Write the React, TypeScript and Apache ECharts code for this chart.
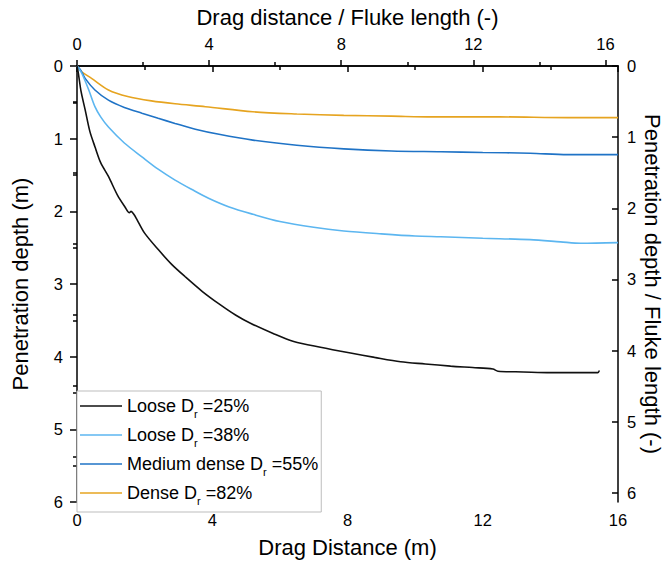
import React, { useEffect, useRef } from "react";
import * as echarts from "echarts";

// ---------- data ----------
const seriesPrefix = ["Loose D", "Loose D", "Medium dense D", "Dense D"];
const seriesSuffix = [" =25%", " =38%", " =55%", " =82%"];
const seriesColors = ["#111111", "#5cb6f0", "#1f73c6", "#e6a420"];

// [drag distance (m), penetration depth (m)]
const loose25: number[][] = [
  [0, 0], [0.04, 0.1], [0.12, 0.35], [0.24, 0.6], [0.38, 0.9], [0.53, 1.11],
  [0.7, 1.33], [0.93, 1.52], [1.2, 1.78], [1.42, 1.94], [1.55, 2.02], [1.6, 2.0],
  [1.68, 2.04], [1.77, 2.11], [2.0, 2.3], [2.41, 2.53], [2.8, 2.73], [3.2, 2.9],
  [3.7, 3.1], [4.19, 3.27], [4.7, 3.43], [5.13, 3.54], [5.8, 3.68], [6.41, 3.79],
  [7.2, 3.87], [8.09, 3.95], [8.8, 4.01], [9.57, 4.07], [10.3, 4.1], [11.05, 4.13],
  [11.7, 4.15], [12.3, 4.17], [12.45, 4.2], [13.2, 4.21], [14.0, 4.22], [14.7, 4.22],
  [15.4, 4.22], [15.45, 4.19],
];
const loose38: number[][] = [
  [0, 0], [0.14, 0.1], [0.34, 0.32], [0.53, 0.56], [0.7, 0.7], [0.93, 0.84],
  [1.4, 1.06], [1.92, 1.25], [2.4, 1.42], [2.9, 1.57], [3.4, 1.7], [3.89, 1.82],
  [4.5, 1.94], [5.2, 2.04], [6.0, 2.14], [7.0, 2.22], [7.89, 2.27], [9.0, 2.31],
  [10.0, 2.34], [10.76, 2.35], [12.0, 2.37], [13.4, 2.39], [14.3, 2.42], [14.9, 2.44],
  [16.0, 2.43],
];
const medium55: number[][] = [
  [0, 0], [0.1, 0.05], [0.24, 0.17], [0.53, 0.33], [0.93, 0.47], [1.4, 0.57],
  [1.92, 0.65], [2.4, 0.72], [2.9, 0.79], [3.5, 0.87], [4.2, 0.94], [5.2, 1.02],
  [6.5, 1.09], [7.89, 1.14], [9.3, 1.17], [10.76, 1.18], [12.0, 1.19], [13.4, 1.2],
  [14.5, 1.22], [16.0, 1.22],
];
const dense82: number[][] = [
  [0, 0], [0.14, 0.08], [0.43, 0.17], [0.93, 0.33], [1.5, 0.42], [2.2, 0.48],
  [2.9, 0.52], [3.8, 0.56], [5.2, 0.63], [6.5, 0.66], [7.89, 0.68], [9.3, 0.69],
  [10.5, 0.7], [12.5, 0.7], [14.5, 0.71], [16.0, 0.71],
];
const allSeries = [loose25, loose38, medium55, dense82];

const topMajorTicks = [0, 4, 8, 12, 16];
const topMinorTicks = [2, 6, 10, 14];
const rightMajorTicks = [0, 1, 2, 3, 4, 5, 6];
const rightMinorTicks = [0.5, 1.5, 2.5, 3.5, 4.5, 5.5];

const FONT = "'Liberation Sans', Arial, sans-serif";

export default function App() {
  const ref = useRef<HTMLDivElement>(null);
  useEffect(() => {
    if (!ref.current) return;
    const chart = echarts.init(ref.current, undefined, { renderer: "svg" });
    const names = seriesPrefix.map((p, i) => p + "r" + seriesSuffix[i]);
    const lineStyle = { color: "#000", width: 1.5 };
    const labelBase = { color: "#000", fontSize: 16.5, fontFamily: FONT };
    const nameStyle = { color: "#000", fontSize: 22, fontFamily: FONT };
    const topCommon = {
      type: "value",
      position: "top",
      min: 0,
      max: 16.38,
      splitLine: { show: false },
    };
    const rightCommon = {
      type: "value",
      position: "right",
      min: 0,
      max: 6.13,
      inverse: true,
      splitLine: { show: false },
    };
    chart.setOption({
      animation: false,
      textStyle: { fontFamily: FONT },
      grid: {
        left: 77,
        top: 66,
        right: 49,
        bottom: 61,
        containLabel: false,
        outerBoundsMode: "none",
      },
      legend: {
        orient: "vertical",
        left: 77,
        top: 391,
        padding: [6, 3, 6, 3],
        itemWidth: 42,
        itemHeight: 1.5,
        itemGap: 7,
        icon: "rect",
        backgroundColor: "#fff",
        borderColor: "#bdbdbd",
        borderWidth: 1,
        data: names,
        formatter: (name: string) => {
          const i = names.indexOf(name);
          return `{n|${seriesPrefix[i]}}{s|r}{n|${seriesSuffix[i]}}`;
        },
        textStyle: {
          color: "#000",
          fontFamily: FONT,
          rich: {
            n: { fontSize: 18, lineHeight: 20, color: "#000", fontFamily: FONT },
            s: { fontSize: 11, color: "#000", fontFamily: FONT, verticalAlign: "bottom", padding: [0, 0, -3, 0] },
          },
        },
      },
      xAxis: [
        {
          type: "value",
          position: "bottom",
          min: 0,
          max: 16,
          interval: 4,
          name: "Drag Distance (m)",
          nameLocation: "middle",
          nameGap: 34,
          nameTextStyle: nameStyle,
          axisLine: { show: true, lineStyle },
          axisTick: { show: true, inside: false, length: 6, lineStyle },
          minorTick: { show: true, splitNumber: 2, length: 4, lineStyle },
          axisLabel: { ...labelBase, margin: 9 },
          splitLine: { show: false },
          minorSplitLine: { show: false },
        },
        {
          ...topCommon,
          name: "Drag distance / Fluke length (-)",
          nameLocation: "middle",
          nameGap: 38,
          nameTextStyle: nameStyle,
          axisLine: { show: true, onZero: false, lineStyle },
          axisTick: { show: true, inside: false, length: 6, lineStyle, customValues: topMajorTicks },
          axisLabel: { ...labelBase, margin: 14, customValues: topMajorTicks },
        },
        {
          ...topCommon,
          axisLine: { show: false },
          axisTick: { show: true, inside: false, length: 4, lineStyle, customValues: topMinorTicks },
          axisLabel: { show: false },
        },
      ],
      yAxis: [
        {
          type: "value",
          position: "left",
          min: 0,
          max: 6,
          interval: 1,
          inverse: true,
          name: "Penetration depth (m)",
          nameLocation: "middle",
          nameGap: 46,
          nameTextStyle: nameStyle,
          axisLine: { show: true, onZero: false, lineStyle },
          axisTick: { show: true, inside: false, length: 7, lineStyle },
          minorTick: { show: true, splitNumber: 2, length: 4, lineStyle },
          axisLabel: { ...labelBase, margin: 14 },
          splitLine: { show: false },
          minorSplitLine: { show: false },
        },
        {
          ...rightCommon,
          name: "Penetration depth / Fluke length (-)",
          nameLocation: "middle",
          nameGap: 23,
          nameMoveOverlap: false,
          nameRotate: -90,
          nameTextStyle: nameStyle,
          axisLine: { show: true, onZero: false, lineStyle },
          axisTick: { show: true, inside: true, length: 6, lineStyle, customValues: rightMajorTicks },
          axisLabel: { ...labelBase, margin: 9, customValues: rightMajorTicks },
        },
        {
          ...rightCommon,
          axisLine: { show: false },
          axisTick: { show: true, inside: true, length: 4, lineStyle, customValues: rightMinorTicks },
          axisLabel: { show: false },
        },
      ],
      series: allSeries.map((data, i) => ({
        name: names[i],
        type: "line",
        xAxisIndex: 0,
        yAxisIndex: 0,
        data,
        symbol: "none",
        showSymbol: false,
        smooth: 0.3,
        lineStyle: { color: seriesColors[i], width: 1.6 },
        itemStyle: { color: seriesColors[i] },
        z: 10 - i,
      })),
    });
    return () => chart.dispose();
  }, []);
  return (
    <div
      ref={ref}
      style={{ position: "absolute", left: 0, top: 0, width: 667, height: 563 }}
    />
  );
}
